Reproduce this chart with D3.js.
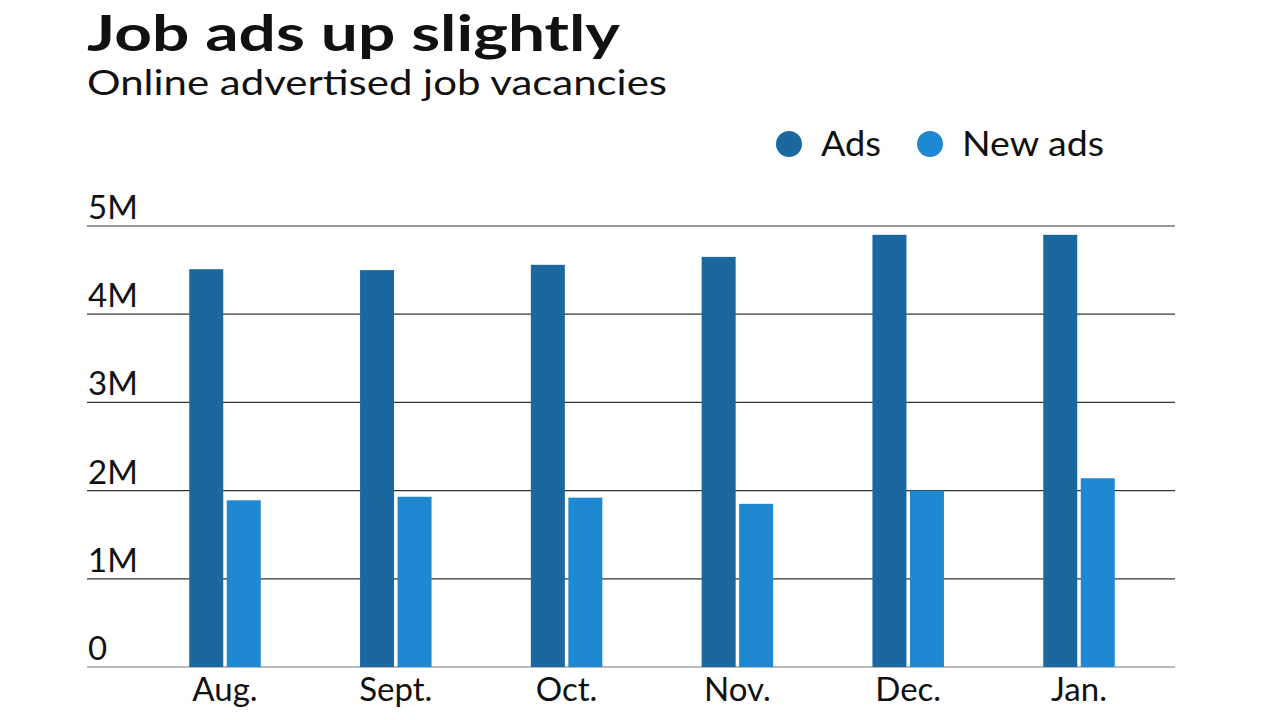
<!DOCTYPE html>
<html>
<head>
<meta charset="utf-8">
<script src="https://cdn.jsdelivr.net/npm/d3@7"></script>
<style>
  body { margin: 0; background: #fff; }
  text { font-family: Lato, "Open Sans", sans-serif; fill: #111; }
</style>
</head>
<body>
<div id="chart"></div>
<script>
var months = ["Aug.", "Sept.", "Oct.", "Nov.", "Dec.", "Jan."];
var ads = [4.51, 4.50, 4.56, 4.65, 4.90, 4.90];
var newAds = [1.89, 1.93, 1.92, 1.85, 2.00, 2.14];
var seriesNames = ["Ads", "New ads"];
var colors = ["#1b679f", "#1e88d2"];
var yTicks = [0, 1, 2, 3, 4, 5];

var svgWidth = 1280, svgHeight = 720;

var svg = d3.select("#chart")
  .append("svg")
  .attr("width", svgWidth)
  .attr("height", svgHeight);

// title block
svg.append("text")
  .attr("x", 87).attr("y", 51)
  .attr("textLength", 533).attr("lengthAdjust", "spacingAndGlyphs")
  .style("font-size", "50px").style("font-weight", "700")
  .text("Job ads up slightly");
svg.append("text")
  .attr("x", 87).attr("y", 95)
  .attr("textLength", 580).attr("lengthAdjust", "spacingAndGlyphs")
  .style("font-size", "35px")
  .text("Online advertised job vacancies");

// legend
var legendX = [789, 930];
var legendW = [60, 142];
seriesNames.forEach(function(name, i) {
  svg.append("circle")
    .attr("cx", legendX[i]).attr("cy", 144).attr("r", 13)
    .attr("fill", colors[i]);
  svg.append("text")
    .attr("x", legendX[i] + 32).attr("y", 156)
    .attr("textLength", legendW[i]).attr("lengthAdjust", "spacingAndGlyphs")
    .style("font-size", "35px")
    .text(name);
});

var y = d3.scaleLinear().domain([0, 5]).range([667, 226]);
var x0 = d3.scaleBand().domain(months).range([139.6, 1164.4]);
var barW = 34, gap = 3.5;

// gridlines + y labels
yTicks.forEach(function(t) {
  svg.append("line")
    .attr("x1", 87).attr("x2", 1175)
    .attr("y1", y(t)).attr("y2", y(t))
    .attr("stroke", t === 0 ? "#777" : "#333")
    .attr("stroke-width", 1.2);
  svg.append("text")
    .attr("x", 88).attr("y", y(t) - 7)
    .style("font-size", "33px")
    .text(t === 0 ? "0" : t + "M");
});

var data = months.map(function(m, i) { return { month: m, vals: [ads[i], newAds[i]] }; });

var groups = svg.selectAll("g.grp")
  .data(data)
  .enter()
  .append("g")
  .attr("transform", d => `translate(${x0(d.month) + x0.bandwidth() / 2}, 0)`);

groups.selectAll("rect")
  .data(d => d.vals)
  .enter()
  .append("rect")
  .attr("x", (v, i) => i === 0 ? -barW - gap / 2 : gap / 2)
  .attr("y", v => y(v))
  .attr("width", barW)
  .attr("height", v => y(0) - y(v))
  .attr("fill", (v, i) => colors[i]);

groups.append("text")
  .attr("y", 701)
  .attr("text-anchor", "middle")
  .style("font-size", "33px")
  .text(d => d.month);
</script>
</body>
</html>
